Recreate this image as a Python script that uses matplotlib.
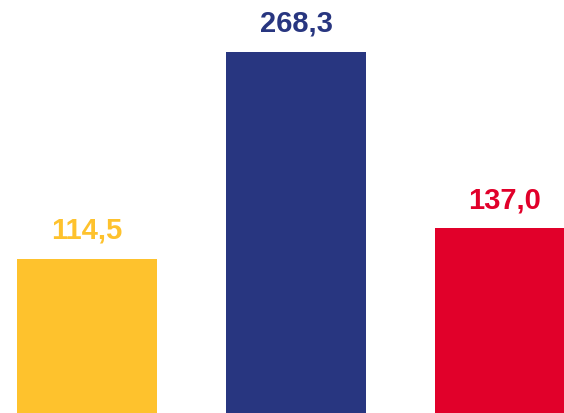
import matplotlib.pyplot as plt

categories = ["A", "B", "C"]
values = [114.5, 268.3, 137.0]
labels = ["114,5", "268,3", "137,0"]
colors = ["#FEC22D", "#283680", "#E1002A"]

fig = plt.figure(figsize=(5.64, 4.13), dpi=100)
ax = fig.add_axes([0, 0, 1, 1])
x = range(len(categories))
ax.bar(x, values, width=0.67, color=colors)
ax.set_xlim(-87 / 209, (564 - 87) / 209)
ax.set_ylim(0, 413 / 1.347)
ax.axis("off")

for xi, v, lab, c in zip(x, values, labels, colors):
    ax.annotate(lab, (xi, v), xytext=(0, 14.5), textcoords="offset points",
                ha="center", va="baseline", fontsize=21, fontweight="bold",
                color=c, family="Liberation Sans")

fig.savefig("out.png", dpi=100)
